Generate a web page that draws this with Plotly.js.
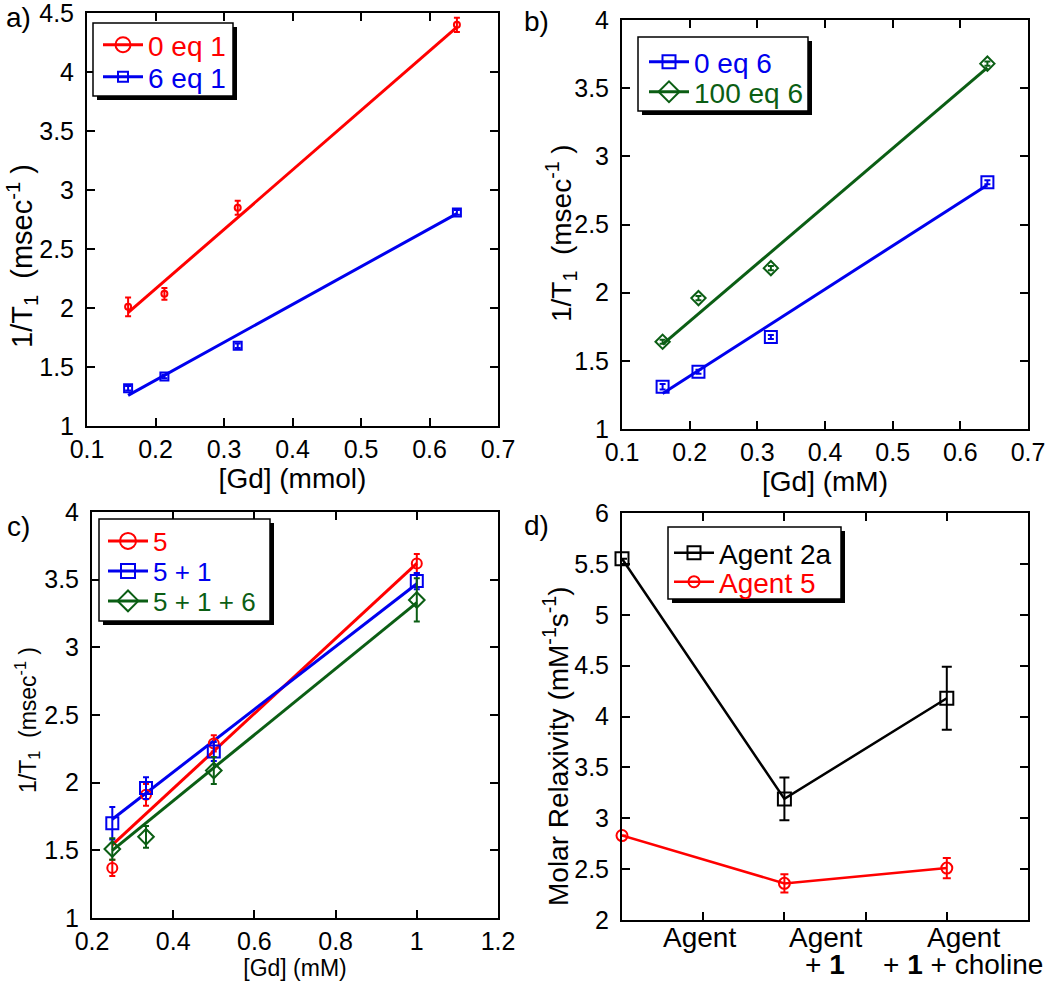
<!DOCTYPE html>
<html><head><meta charset="utf-8">
<script src="https://cdn.plot.ly/plotly-3.0.1.min.js"></script>
<style>body{margin:0;background:#fff}#c{width:1050px;height:981px}</style>
</head><body><div id="c"></div>
<script>
// ---------- data ----------
const xA = [0.16, 0.213, 0.32, 0.64];
const yA_0eq1 = [2.01, 2.12, 2.85, 4.40];
const eA_0eq1 = [0.08, 0.05, 0.06, 0.06];
const yA_6eq1 = [1.32, 1.42, 1.68, 2.81];
const eA_6eq1 = [0.02, 0.015, 0.02, 0.02];
const fitXA = [0.16, 0.64];
const fitA_0eq1 = [1.96, 4.38];
const fitA_6eq1 = [1.26, 2.80];

const xB = [0.16, 0.213, 0.32, 0.64];
const yB_0eq6 = [1.31, 1.42, 1.675, 2.81];
const eB_0eq6 = [0.02, 0.015, 0.015, 0.015];
const yB_100eq6 = [1.64, 1.96, 2.18, 3.68];
const eB_100eq6 = [0.015, 0.015, 0.015, 0.015];
const fitXB = [0.16, 0.64];
const fitB_0eq6 = [1.26, 2.79];
const fitB_100eq6 = [1.62, 3.65];

const xC = [0.25, 0.333, 0.5, 1.0];
const yC_5 = [1.37, 1.91, 2.29, 3.62];
const eC_5 = [0.06, 0.08, 0.06, 0.07];
const yC_51 = [1.70, 1.96, 2.23, 3.49];
const eC_51 = [0.12, 0.08, 0.07, 0.06];
const yC_516 = [1.51, 1.60, 2.09, 3.35];
const eC_516 = [0.08, 0.08, 0.10, 0.16];
const fitXC = [0.25, 1.0];
const fitC_5 = [1.54, 3.62];
const fitC_51 = [1.73, 3.47];
const fitC_516 = [1.50, 3.33];

const xD = [1, 2, 3];
const yD_2a = [5.55, 3.19, 4.18];
const eD_2a = [0, 0.21, 0.31];
const yD_5 = [2.83, 2.36, 2.51];
const eD_5 = [0, 0.09, 0.10];
const dLabelsTop = ['Agent', 'Agent', 'Agent'];
const dLabelsBottom = ['', '+ <b>1</b>', '+ <b>1</b> + choline'];

// ---------- helpers ----------
const W = 1050, H = 981;
const px = v => v / W, py = v => 1 - v / H;
const RED = '#ff0000', BLUE = '#0000ee', GREEN = '#0b5e14', BLACK = '#000000';
const FONT = 'Liberation Sans, Arial, sans-serif';

function pts(x, y, e, color, symbol, size, xa, ya) {
  return {x, y, xaxis: xa, yaxis: ya, mode: 'markers', showlegend: false, hoverinfo: 'x+y',
    marker: {symbol, size, color, line: {color, width: 2}},
    error_y: {type: 'data', array: e, visible: true, color, thickness: 2, width: 3}};
}
function fit(x, y, color, xa, ya) {
  return {x, y, xaxis: xa, yaxis: ya, mode: 'lines', showlegend: false, hoverinfo: 'skip',
    line: {color, width: 3}};
}
function leg(name, color, symbol, size, xa, ya, lg) {
  return {x: [null], y: [null], xaxis: xa, yaxis: ya, mode: 'lines+markers', legend: lg,
    name: '<span style="color:' + color + '">' + name + '</span>',
    line: {color, width: 3}, marker: {symbol, size, color, line: {color, width: 2}}};
}

const traces = [
  fit(fitXA, fitA_0eq1, RED, 'x', 'y'),
  fit(fitXA, fitA_6eq1, BLUE, 'x', 'y'),
  pts(xA, yA_0eq1, eA_0eq1, RED, 'circle-open', 6, 'x', 'y'),
  pts(xA, yA_6eq1, eA_6eq1, BLUE, 'square-open', 8, 'x', 'y'),
  leg('0 eq 1', RED, 'circle-open', 15, 'x', 'y', 'legend'),
  leg('6 eq 1', BLUE, 'square-open', 10, 'x', 'y', 'legend2'),

  fit(fitXB, fitB_0eq6, BLUE, 'x2', 'y2'),
  fit(fitXB, fitB_100eq6, GREEN, 'x2', 'y2'),
  pts(xB, yB_0eq6, eB_0eq6, BLUE, 'square-open', 12, 'x2', 'y2'),
  pts(xB, yB_100eq6, eB_100eq6, GREEN, 'diamond-open', 11, 'x2', 'y2'),
  leg('0 eq 6', BLUE, 'square-open', 13, 'x2', 'y2', 'legend3'),
  leg('100 eq 6', GREEN, 'diamond-open', 16, 'x2', 'y2', 'legend4'),

  fit(fitXC, fitC_5, RED, 'x3', 'y3'),
  fit(fitXC, fitC_51, BLUE, 'x3', 'y3'),
  fit(fitXC, fitC_516, GREEN, 'x3', 'y3'),
  pts(xC, yC_5, eC_5, RED, 'circle-open', 10, 'x3', 'y3'),
  pts(xC, yC_51, eC_51, BLUE, 'square-open', 12, 'x3', 'y3'),
  pts(xC, yC_516, eC_516, GREEN, 'diamond-open', 12, 'x3', 'y3'),
  leg('5', RED, 'circle-open', 16, 'x3', 'y3', 'legend5'),
  leg('5 + 1', BLUE, 'square-open', 14, 'x3', 'y3', 'legend6'),
  leg('5 + 1 + 6', GREEN, 'diamond-open', 16, 'x3', 'y3', 'legend7'),

  {x: xD, y: yD_2a, xaxis: 'x4', yaxis: 'y4', mode: 'lines+markers', legend: 'legend8', cliponaxis: false,
    name: '<span style="color:#000">Agent 2a</span>',
    line: {color: BLACK, width: 2.5},
    marker: {symbol: 'square-open', size: 13, color: BLACK, line: {color: BLACK, width: 2}},
    error_y: {type: 'data', array: eD_2a, visible: true, color: BLACK, thickness: 2, width: 5}},
  {x: xD, y: yD_5, xaxis: 'x4', yaxis: 'y4', mode: 'lines+markers', legend: 'legend9', cliponaxis: false,
    name: '<span style="color:#ff0000">Agent 5</span>',
    line: {color: RED, width: 2.5},
    marker: {symbol: 'circle-open', size: 11, color: RED, line: {color: RED, width: 2}},
    error_y: {type: 'data', array: eD_5, visible: true, color: RED, thickness: 2, width: 4}}
];

function ax(domain, range, dtick, anchor, extra) {
  return Object.assign({domain, range, dtick, anchor, showline: true, linecolor: BLACK, linewidth: 2,
    mirror: 'ticks', ticks: 'inside', ticklen: 8, tickwidth: 2, tickcolor: BLACK, ticklabeloverflow: 'allow',
    showgrid: false, zeroline: false, tickfont: {family: FONT, size: 25, color: BLACK}}, extra || {});
}
const tfont = s => ({family: FONT, size: s, color: BLACK});

const dA = {x: [px(87), px(498)], y: [py(426), py(13)]};
const dB = {x: [px(622), px(1028)], y: [py(429), py(20)]};
const dC = {x: [px(92), px(498)], y: [py(918), py(512)]};
const dD = {x: [px(622), px(1028)], y: [py(920), py(513)]};

function legendCfg(lineStart, rowY, size) {
  return {x: px(lineStart - 5), y: py(rowY), xanchor: 'left', yanchor: 'middle', bgcolor: 'rgba(0,0,0,0)',
    borderwidth: 0, font: {family: FONT, size: size || 28, color: BLACK}, itemwidth: 40, itemclick: false};
}
function box(x0, y0, x1, y1) {
  return [
    {type: 'rect', xref: 'paper', yref: 'paper', x0: px(x0 + 4), x1: px(x1 + 4), y0: py(y0 + 4), y1: py(y1 + 4),
      fillcolor: BLACK, line: {width: 0}, layer: 'above'},
    {type: 'rect', xref: 'paper', yref: 'paper', x0: px(x0), x1: px(x1), y0: py(y0), y1: py(y1),
      fillcolor: '#ffffff', line: {color: BLACK, width: 1.5}, layer: 'above'}
  ];
}
function ytitle(text, xc, yc, size) {
  return {text, xref: 'paper', yref: 'paper', x: px(xc), y: py(yc), xanchor: 'center', yanchor: 'middle',
    textangle: -90, showarrow: false, font: tfont(size)};
}
function panelLabel(text, xl, yt) {
  return {text, xref: 'paper', yref: 'paper', x: px(xl), y: py(yt), xanchor: 'left', yanchor: 'top',
    showarrow: false, font: tfont(28)};
}

const T1 = '1/T<sub>1</sub>\u00a0 (msec<sup>-1</sup>\u00a0)';
const annotations = [
  panelLabel('a)', 4, 0), panelLabel('b)', 522, 4), panelLabel('c)', 5, 509), panelLabel('d)', 522, 508),
  ytitle(T1, 22, 256, 29), ytitle(T1, 561, 233, 28), ytitle(T1, 27, 720, 23),
  ytitle('Molar Relaxivity (mM<sup>-1</sup>s<sup>-1</sup>)', 556, 746, 28)
];
const dPos = [1.48, 2.25, 3.1];
dPos.forEach((p, i) => {
  annotations.push({text: dLabelsTop[i], xref: 'x4', yref: 'paper', x: p, y: py(937), xanchor: 'center',
    yanchor: 'middle', showarrow: false, font: tfont(28)});
  if (dLabelsBottom[i]) annotations.push({text: dLabelsBottom[i], xref: 'x4', yref: 'paper', x: p, y: py(964),
    xanchor: 'center', yanchor: 'middle', showarrow: false, font: tfont(28)});
});

const layout = {
  width: W, height: H, margin: {l: 0, r: 0, t: 0, b: 0},
  paper_bgcolor: '#fff', plot_bgcolor: 'rgba(0,0,0,0)', font: {family: FONT, color: BLACK},
  xaxis: ax(dA.x, [0.1, 0.7], 0.1, 'y', {title: {text: '[Gd] (mmol)', font: tfont(28), standoff: 0}}),
  yaxis: ax(dA.y, [1, 4.5001], 0.5, 'x', {ticklabelstandoff: 6}),
  xaxis2: ax(dB.x, [0.1, 0.7], 0.1, 'y2', {title: {text: '[Gd] (mM)', font: tfont(28), standoff: 0}}),
  yaxis2: ax(dB.y, [1, 4], 0.5, 'x2', {ticklabelstandoff: 6}),
  xaxis3: ax(dC.x, [0.2, 1.2], 0.2, 'y3', {title: {text: '[Gd] (mM)', font: tfont(23), standoff: 0}}),
  yaxis3: ax(dC.y, [1, 4], 0.5, 'x3', {ticklabelstandoff: 6}),
  xaxis4: ax(dD.x, [1, 3.5], 0.5, 'y4', {tickmode: 'array', tickvals: [1.5, 2, 2.5, 3], showticklabels: false}),
  yaxis4: ax(dD.y, [2, 6], 0.5, 'x4', {ticklabelstandoff: 6}),
  legend: legendCfg(103, 45), legend2: legendCfg(103, 77),
  legend3: legendCfg(649, 62), legend4: legendCfg(649, 92),
  legend5: legendCfg(108, 541, 26), legend6: legendCfg(108, 571, 26), legend7: legendCfg(108, 601, 26),
  legend8: legendCfg(674, 553), legend9: legendCfg(674, 582),
  shapes: [].concat(box(93, 23, 233, 96), box(638, 37, 808, 111), box(99, 519, 270, 621), box(668, 527, 841, 599)),
  annotations
};

Plotly.newPlot('c', traces, layout, {staticPlot: true});
</script></body></html>
